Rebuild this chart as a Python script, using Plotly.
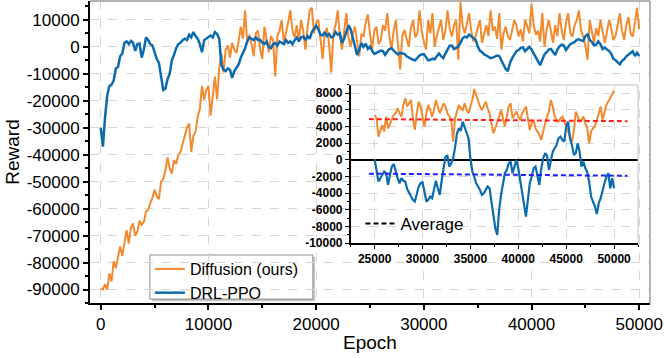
import numpy as np
import plotly.graph_objects as go

# 训练曲线（每 200 个 epoch 取一个点）
step = 200
epoch = np.arange(0, 50001, step)

diffusion = [
    -89500, -90000, -88000, -90000, -84000, -87000, -79500, -82000, -78000, -74000,
    -77500, -72000, -68000, -73000, -67000, -65500, -70000, -68500, -64500, -66000,
    -65000, -61000, -60500, -58000, -56000, -53000, -55500, -56500, -50000, -49000,
    -46000, -41000, -45000, -47000, -42000, -43500, -40000, -39000, -36000, -34000,
    -30000, -28500, -39000, -33000, -31500, -26000, -23000, -14500, -19500, -16000,
    -14500, -25500, -18000, -11000, -19500, -8000, -2500, -9500, -1000, 500,
    -4000, 1500, -1000, -2300, 2000, 7500, 3000, 13500, 1500, 4500,
    1000, -3500, 5000, 6000, -1000, -4500, 7500, 2000, -2000, 4000,
    2500, -11000, 4000, 6000, 10000, 1500, 5000, 9000, 13500, 6000,
    3500, 8000, 2000, 10000, 6000, -1000, 7000, 13500, 14500, 5000,
    9000, 10000, 3000, -4500, 5000, 7000, 1000, -9500, 5000, 8000,
    13500, 4000, -1000, 6000, 12500, 3500, 0, 5000, 7500, 2000,
    -3500, 4500, 4000, 9000, 12000, 5000, -1000, 6000, 7500, 1000,
    2500, 8000, 6000, 12500, 4000, -1000, 6000, 10000, 2000, -8500,
    4000, 6300, 3000, 0, 7000, 10000, 3500, 5000, 13500, 6000,
    2000, -1000, 10000, 5000, 12500, 0, 4000, 7000, 10000, 2500,
    6000, 13500, 7000, 3800, 8000, 10000, -4800, 16500, 8000, 5000,
    9000, 12500, 6000, 2000, 3800, 7500, 10000, 1500, 5000, 8000,
    4000, 13500, 6000, 7500, 3000, 12500, -1000, 5000, 7500, 4000,
    2500, 6000, 10000, 8000, 3800, 6500, 2000, 10000, 7000, 5000,
    16000, 8000, 4500, 6000, 2000, 12500, 0, 6500, 10000, 5000,
    1500, 8000, 4000, 12500, 6000, 2500, 9000, 12500, 5000, 3800,
    8000, 10000, 13500, 6000, 3800, 500, -4800, 10000, 5000, 1500,
    7000, 4000, 10000, 6000, 1500, 5500, 10000, 7000, 2500, 4000,
    9000, 12500, 6000, 2600, 8000, 11000, 5000, 3800, 9000, 14500,
    6500,
]

drl_ppo = [
    -30000, -37000, -26000, -18000, -14500, -14000, -12500, -8000, -7500, -3500,
    -2500, 1500, 2000, 1000, 2200, 1500, -1500, 1000, 1200, -4000,
    -1000, 3500, 2500, 1000, 500, -2000, -4500, -6000, -12000, -16000,
    -15500, -12000, -10000, -5000, -3000, -500, 1000, 1500, 2500, 3000,
    2500, 4500, 3500, 5500, 4000, 3000, 1000, -2000, 2500, 3000,
    3500, 4200, 3500, 5500, 4800, 3000, -6500, -8500, -9000, -8000,
    -8500, -11500, -9000, -7500, -6500, -4000, -2500, -500, 2000, 3500,
    3000, 2500, 3500, 2500, 2600, 1500, 1000, 2000, 0, -500,
    1000, 1400, 500, 2000, 1500, 1000, 2500, 1500, 2000, 1000,
    2500, 3500, 2000, 3500, 3800, 2500, 4000, 3000, 5500, 6500,
    7800, 6500, 4500, 4200, 5500, 4000, 4800, 3500, 3800, 5500,
    4500, 5000, 1500, 3000, 6000, 8000, 6500, 3000, 500, -3000,
    -1000, 1400, 0, 1200, -800, 100, -1500, -2600, -2200, -1800,
    -1400, -1600, -3000, -1800, -800, -500, -1500, -2200, -2800, -2200,
    -2500, -2600, -3500, -4000, -4300, -4800, -5000, -4000, -3200, -2800,
    -2700, -3800, -5000, -4800, -4400, -4600, -3500, -2500, -3400, -4200,
    -2500, -1200, 400, 500, -800, -400, 200, 1500, 3200, 3800,
    3500, 4600, 4000, 3200, 2600, 200, -1400, -2000, -2800, -3200,
    -3600, -4200, -4000, -3600, -3200, -3400, -5000, -6600, -8200, -9000,
    -6000, -4200, -2600, -1600, -1200, -400, -200, -1600, -800, 0,
    -1000, -2600, -3600, -5500, -6800, -4800, -2800, -2000, -1000, -800,
    -2000, -3000, -1000, 200, 800, 500, -1200, -200, 1000, 1400,
    1800, 2600, 2800, 2400, 2200, 4000, 4600, 2600, 1800, 600,
    800, 2000, 1000, -800, -200, -1000, -1500, -2600, -4400, -5000,
    -5600, -6500, -5200, -4600, -3500, -2800, -2000, -1600, -3400, -2200,
    -3400,
]

# 小图：后半段（25000 之后）
inset_epoch = np.arange(25000, 50001, step)
diffusion_smooth = [
    5400, 5000, 2800, 3600, 4200, 3400, 5200, 3800, 4400, 4800,
    5400, 5600, 6200, 5600, 5200, 6600, 7400, 6400, 6800, 7200,
    5000, 3600, 5600, 7000, 6400, 5400, 4000, 5600, 6600, 6000,
    5200, 6000, 7200, 6400, 5600, 6200, 6800, 6400, 5600, 5200,
    4800, 2200, 5000, 5800, 6600, 6200, 6000, 6800, 6000, 5600,
    6400, 7200, 8500, 7800, 7200, 6400, 6000, 6600, 7000, 6200,
    5600, 4400, 3200, 3800, 4400, 5200, 6000, 5000, 4000, 5200,
    6400, 6800, 5000, 5400, 5800, 5200, 4800, 5600, 6000, 6400,
    5000, 3600, 4400, 4800, 3800, 3400, 3000, 2400, 3600, 4400,
    5200, 5800, 7200, 6400, 5200, 4800, 4600, 5000, 5200, 4600,
    3800, 3200, 2600, 2200, 3400, 5800, 5200, 4600, 4800, 5200,
    4400, 3800, 2000, 3400, 3800, 4000, 4800, 5600, 6400, 4800,
    5800, 6600, 7000, 7400, 7800,
    8300,
]
ppo_inset = drl_ppo[len(epoch) - len(inset_epoch):]

# 平均线
avg_epoch = [24400, 51400]
diffusion_avg = [4900, 4650]
ppo_avg = [-1650, -1900]

# 刻度
reward_ticks = [10000, 0, -10000, -20000, -30000, -40000, -50000, -60000, -70000, -80000, -90000]
inset_ticks = [8000, 6000, 4000, 2000, 0, -2000, -4000, -6000, -8000, -10000]

orange = "#F28A30"
blue = "#0C6BAE"
font = "Arial, Liberation Sans, sans-serif"
grid = "#d6d6d6"

fig = go.Figure()

fig.add_trace(go.Scatter(x=epoch, y=diffusion, mode="lines", name="Diffusion (ours)",
                         line=dict(color=orange, width=2)))
fig.add_trace(go.Scatter(x=epoch, y=drl_ppo, mode="lines", name="DRL-PPO",
                         line=dict(color=blue, width=2.5)))

# 小图
fig.add_trace(go.Scatter(x=inset_epoch, y=diffusion_smooth, mode="lines", xaxis="x2", yaxis="y2",
                         showlegend=False, line=dict(color=orange, width=2)))
fig.add_trace(go.Scatter(x=inset_epoch, y=ppo_inset, mode="lines", xaxis="x2", yaxis="y2",
                         showlegend=False, line=dict(color=blue, width=2.2)))
fig.add_trace(go.Scatter(x=avg_epoch, y=diffusion_avg, mode="lines", xaxis="x2", yaxis="y2",
                         showlegend=False, line=dict(color="#FF2020", width=2, dash="5px,3px")))
fig.add_trace(go.Scatter(x=avg_epoch, y=ppo_avg, mode="lines", xaxis="x2", yaxis="y2",
                         showlegend=False, line=dict(color="#2020FF", width=2, dash="5px,3px")))
fig.add_trace(go.Scatter(x=[None], y=[None], mode="lines", xaxis="x2", yaxis="y2",
                         name="Average", legend="legend2",
                         line=dict(color="black", width=2, dash="5px,3px")))

axis_common = dict(showline=True, linecolor="black", ticks="outside", tickcolor="black",
                   showgrid=True, gridcolor=grid, griddash="dash", gridwidth=1,
                   automargin=False)

fig.update_layout(
    width=664, height=358,
    margin=dict(l=90, r=14, t=1, b=55),
    paper_bgcolor="white", plot_bgcolor="white",
    font=dict(family=font, color="black"),
    xaxis=dict(axis_common, range=[-1000, 51000], tick0=0, dtick=10000, zeroline=False,
               tickformat="d", linewidth=2, ticklen=5, tickwidth=1.5, tickfont=dict(size=17),
               minor=dict(tickmode="linear", tick0=0, dtick=5000, ticks="outside",
                          ticklen=3, tickcolor="black"),
               title=dict(text="Epoch", font=dict(size=19), standoff=2)),
    yaxis=dict(axis_common, range=[-95000, 17000], tickmode="array", tickvals=reward_ticks,
               ticktext=[str(v) for v in reward_ticks], zeroline=False,
               linewidth=2, ticklen=5, tickwidth=1.5, tickfont=dict(size=17),
               minor=dict(tickmode="linear", tick0=0, dtick=5000, ticks="outside",
                          ticklen=3, tickcolor="black"),
               title=dict(text="Reward", font=dict(size=19), standoff=2)),
    xaxis2=dict(axis_common, domain=[0.4655, 0.9786], anchor="y2", range=[22500, 52500],
                tick0=0, dtick=5000, tickformat="d", zeroline=False, linewidth=1.5, ticklen=4,
                tickfont=dict(size=12, weight="bold"),
                minor=dict(tickmode="linear", tick0=0, dtick=2500, ticks="outside",
                           ticklen=2, tickcolor="black")),
    yaxis2=dict(axis_common, domain=[0.198, 0.722], anchor="x2", range=[-10000, 9000],
                tickmode="array", tickvals=inset_ticks, ticktext=[str(v) for v in inset_ticks],
                zeroline=True, zerolinecolor="black", zerolinewidth=1.5,
                linewidth=1.5, ticklen=4, tickfont=dict(size=12, weight="bold"),
                minor=dict(tickmode="linear", tick0=0, dtick=1000, ticks="outside",
                           ticklen=2, tickcolor="black")),
    legend=dict(x=0.107, y=0.169, xanchor="left", yanchor="top",
                bgcolor="rgba(0,0,0,0)", borderwidth=0,
                font=dict(size=16), tracegroupgap=0),
    legend2=dict(x=0.483, y=0.262, xanchor="left", yanchor="middle",
                 bgcolor="rgba(0,0,0,0)", borderwidth=0, font=dict(size=17)),
    shapes=[
        # 图例框（带浅阴影）
        dict(type="rect", xref="paper", yref="paper", x0=0.111, x1=0.402, y0=0.006, y1=0.152,
             fillcolor="#c8c8c8", line=dict(width=0), layer="between"),
        dict(type="rect", xref="paper", yref="paper", x0=0.107, x1=0.398, y0=0.013, y1=0.159,
             fillcolor="white", line=dict(color="#8c8c8c", width=1), layer="between"),
        # 外框上、右边
        dict(type="line", xref="paper", yref="paper", x0=0, x1=1, y0=1, y1=1,
             line=dict(color="#9a9a9a", width=1.5), layer="above"),
        dict(type="line", xref="paper", yref="paper", x0=1, x1=1, y0=0, y1=1,
             line=dict(color="#9a9a9a", width=1.5), layer="above"),
        dict(type="line", xref="x2 domain", yref="y2 domain", x0=0, x1=1, y0=1, y1=1,
             line=dict(color="#c0c0c0", width=1), layer="above"),
        dict(type="line", xref="x2 domain", yref="y2 domain", x0=1, x1=1, y0=0, y1=1,
             line=dict(color="#c0c0c0", width=1), layer="above"),
    ],
)

# 页面默认 body 外边距会让图偏移，去掉
fig.write_html("out.html", config={"displayModeBar": False},
               post_script="document.body.style.margin='0';")
